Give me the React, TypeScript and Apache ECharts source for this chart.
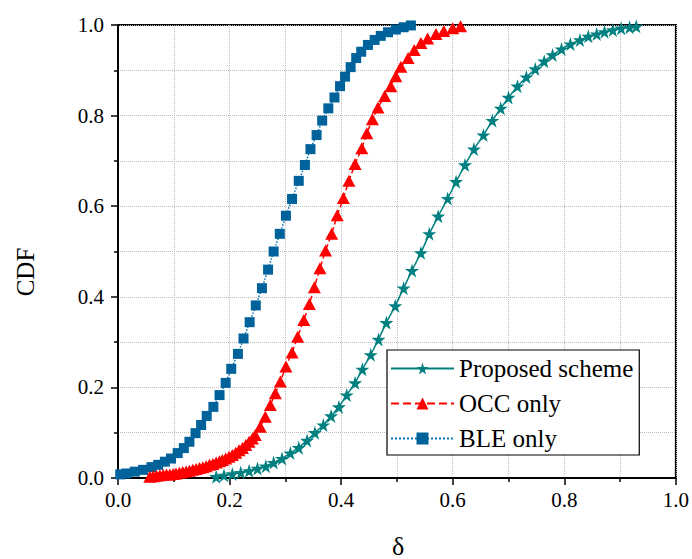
import React, { useEffect, useRef } from "react";
import * as echarts from "echarts";

// BLE only (blue squares)
const bleX = [0.004,0.015,0.030,0.045,0.060,0.072,0.084,0.095,0.107,0.118,0.128,0.139,0.149,0.159,0.171,0.182,0.193,0.203,0.215,0.225,0.236,0.247,0.258,0.269,0.279,0.290,0.301,0.312,0.324,0.335,0.345,0.356,0.366,0.377,0.388,0.398,0.407,0.417,0.427,0.436,0.448,0.460,0.471,0.484,0.498,0.512,0.525];
const bleY = [0.008,0.010,0.014,0.018,0.024,0.029,0.036,0.043,0.055,0.066,0.080,0.099,0.117,0.137,0.157,0.183,0.210,0.241,0.274,0.308,0.344,0.381,0.419,0.460,0.500,0.539,0.579,0.616,0.656,0.691,0.726,0.757,0.789,0.816,0.840,0.865,0.886,0.907,0.927,0.941,0.956,0.967,0.976,0.984,0.990,0.995,0.999];

// OCC only (red triangles)
const occX = [0.057,0.063,0.069,0.075,0.081,0.087,0.093,0.099,0.104,0.110,0.116,0.122,0.128,0.134,0.140,0.146,0.152,0.158,0.164,0.170,0.176,0.182,0.187,0.193,0.199,0.205,0.211,0.217,0.223,0.229,0.235,0.241,0.246,0.255,0.264,0.273,0.282,0.291,0.301,0.312,0.322,0.333,0.343,0.352,0.362,0.372,0.383,0.393,0.404,0.414,0.425,0.437,0.446,0.456,0.466,0.478,0.489,0.498,0.507,0.520,0.531,0.543,0.555,0.570,0.584,0.600,0.614];
const occY = [0.003,0.004,0.005,0.006,0.007,0.0075,0.008,0.009,0.010,0.0115,0.013,0.0145,0.016,0.018,0.020,0.022,0.024,0.026,0.029,0.031,0.034,0.037,0.040,0.043,0.047,0.051,0.056,0.061,0.066,0.073,0.080,0.087,0.095,0.113,0.135,0.161,0.187,0.213,0.246,0.277,0.312,0.349,0.384,0.421,0.463,0.502,0.539,0.580,0.618,0.656,0.693,0.728,0.761,0.792,0.818,0.843,0.865,0.887,0.908,0.927,0.945,0.960,0.970,0.980,0.987,0.993,0.997];

// Proposed scheme (teal stars)
const propX = [0.176,0.190,0.205,0.220,0.235,0.250,0.265,0.279,0.294,0.309,0.324,0.339,0.353,0.368,0.382,0.396,0.410,0.425,0.438,0.453,0.467,0.481,0.497,0.512,0.527,0.543,0.558,0.574,0.591,0.606,0.622,0.638,0.655,0.671,0.686,0.700,0.716,0.732,0.748,0.764,0.779,0.795,0.811,0.828,0.843,0.858,0.872,0.887,0.902,0.917,0.929];
const propY = [0.003,0.006,0.009,0.012,0.016,0.021,0.026,0.034,0.043,0.055,0.067,0.083,0.100,0.117,0.137,0.157,0.183,0.210,0.240,0.272,0.306,0.343,0.380,0.419,0.458,0.497,0.539,0.578,0.617,0.654,0.691,0.726,0.757,0.789,0.816,0.840,0.865,0.885,0.903,0.920,0.934,0.947,0.958,0.967,0.975,0.980,0.985,0.989,0.993,0.995,0.997];

const seriesNames = ["Proposed scheme", "OCC only", "BLE only"];
const xTitle = "δ";
const yTitle = "CDF";

const FONT = "Liberation Serif";
const STAR = "path://M50,0 L61,35 L98,35 L68,57 L79,91 L50,70 L21,91 L32,57 L2,35 L39,35 Z";

const zip = (xs: number[], ys: number[]) => xs.map((x, i) => [x, ys[i]]);

export default function App() {
  const ref = useRef<HTMLDivElement>(null);
  useEffect(() => {
    if (!ref.current) return;
    const chart = echarts.init(ref.current, null, { renderer: "svg" });
    const gridLine = { show: true, lineStyle: { color: "#bdbdbd", type: "dotted", width: 1 } };
    const axisCommon = {
      type: "value",
      min: 0,
      max: 1,
      interval: 0.2,
      axisLine: { show: true, lineStyle: { color: "#000", width: 2 } },
      axisTick: { show: true, inside: false, length: 7, lineStyle: { color: "#000", width: 1.5 } },
      minorTick: { show: true, splitNumber: 2, length: 4, lineStyle: { color: "#000", width: 1.5 } },
      splitLine: gridLine,
      minorSplitLine: gridLine,
      axisLabel: {
        fontFamily: FONT,
        fontSize: 21,
        color: "#000",
        formatter: (v: number) => v.toFixed(1),
      },
    };
    chart.setOption({
      animation: false,
      backgroundColor: "#fff",
      grid: {
        left: 118,
        top: 25,
        width: 562,
        height: 453,
        show: true,
        borderColor: "#000",
        borderWidth: 2,
        backgroundColor: "transparent",
      },
      xAxis: { ...axisCommon, axisLabel: { ...axisCommon.axisLabel, margin: 11 } },
      yAxis: { ...axisCommon, axisLabel: { ...axisCommon.axisLabel, margin: 14 } },
      legend: {
        orient: "vertical",
        left: 387,
        top: 350,
        data: seriesNames,
        backgroundColor: "#fff",
        borderColor: "#000",
        borderWidth: 1.2,
        borderRadius: 0,
        padding: [6, 6, 4, 3],
        itemGap: 10,
        itemWidth: 63,
        itemHeight: 15,
        textStyle: { fontFamily: FONT, fontSize: 25, color: "#000", lineHeight: 25 },
      },
      graphic: [
        {
          type: "text",
          x: 25,
          y: 272,
          rotation: Math.PI / 2,
          style: {
            text: yTitle,
            fontFamily: FONT,
            fontSize: 25,
            fill: "#000",
            align: "center",
            verticalAlign: "middle",
          },
        },
        {
          type: "text",
          x: 398,
          y: 546,
          style: {
            text: xTitle,
            fontFamily: FONT,
            fontSize: 26,
            fill: "#000",
            align: "center",
            verticalAlign: "middle",
          },
        },
      ],
      series: [
        {
          name: seriesNames[2],
          type: "line",
          data: zip(bleX, bleY),
          symbol: "rect",
          symbolSize: 10,
          showAllSymbol: true,
          itemStyle: { color: "#00629b" },
          lineStyle: { color: "#0a72b0", type: "dotted", width: 1.5 },
        },
        {
          name: seriesNames[1],
          type: "line",
          data: zip(occX, occY),
          symbol: "triangle",
          symbolSize: [13, 12],
          showAllSymbol: true,
          itemStyle: { color: "#ff0000" },
          lineStyle: { color: "#ff0000", type: "dashed", width: 1.5 },
        },
        {
          name: seriesNames[0],
          type: "line",
          data: zip(propX, propY),
          symbol: STAR,
          symbolSize: 14,
          showAllSymbol: true,
          itemStyle: { color: "#008080" },
          lineStyle: { color: "#008080", type: "solid", width: 1.5 },
        },
      ],
    });
    return () => chart.dispose();
  }, []);
  return (
    <div
      ref={ref}
      style={{ position: "fixed", left: 0, top: 0, width: 692, height: 559, background: "#fff" }}
    />
  );
}
